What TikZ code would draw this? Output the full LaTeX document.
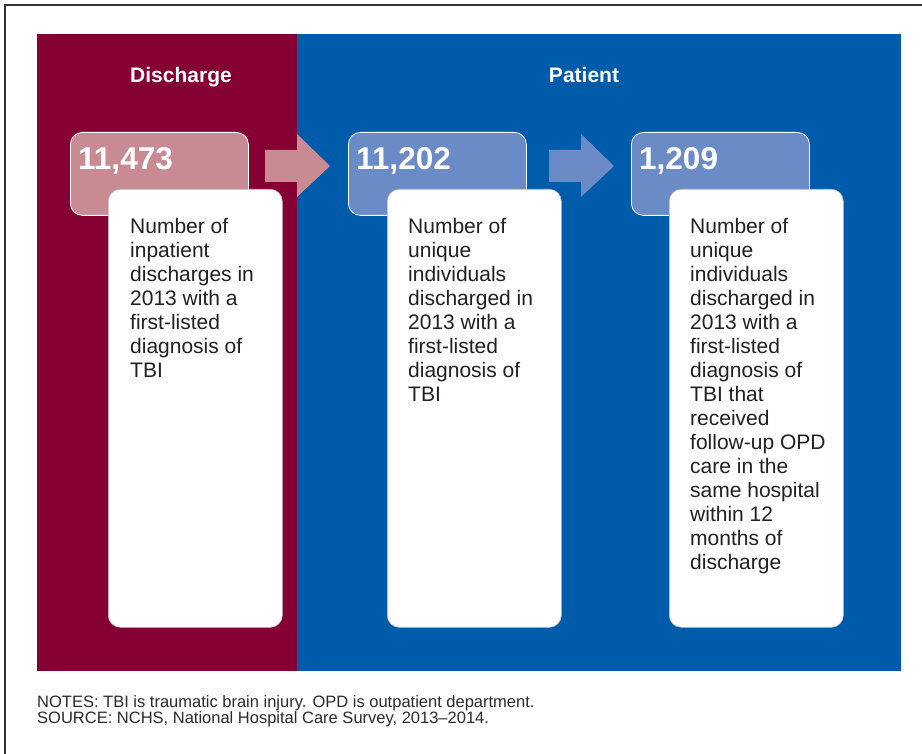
\documentclass[tikz,border=0pt]{standalone}
\usepackage{fontspec}
\setmainfont{Liberation Sans}
\definecolor{maroonc}{HTML}{850033}
\definecolor{bluec}{HTML}{005BAA}
\definecolor{pinkc}{HTML}{C98B93}
\definecolor{lblue}{HTML}{6B8BC7}
\definecolor{txtc}{HTML}{231F20}
\definecolor{notec}{HTML}{2A2A2A}
\begin{document}
\begin{tikzpicture}[x=1pt,y=-1pt,
  panel/.style={draw=none,inner sep=0,outer sep=0,anchor=north west},
  numbox/.style={draw=white,line width=0.8pt,rounded corners=12pt,inner sep=0,anchor=north west,minimum width=178pt,minimum height=83pt},
  whitebox/.style={draw=black!25,line width=0.6pt,fill=white,rounded corners=12pt,inner sep=0,anchor=north west,minimum width=174pt,minimum height=438pt},
  numtxt/.style={font=\bfseries\fontsize{31.5}{34}\selectfont,text=white,anchor=base west,inner sep=0},
  title/.style={font=\bfseries\fontsize{21}{24}\selectfont,text=white,anchor=base,inner sep=0},
  desc/.style={font=\fontsize{21}{24}\selectfont,text=txtc,align=left,anchor=north west,inner sep=0},
  note/.style={font=\fontsize{16.5}{16}\selectfont,text=notec,align=left,anchor=north west,inner sep=0}]
\useasboundingbox (0,0) rectangle (922,754);
\fill[white] (0,0) rectangle (922,754);
\draw[black!80,line width=1.2pt] (5,754) -- (5,5) -- (922,5);
% panels
\node[panel,fill=maroonc,minimum width=260pt,minimum height=637pt] (pd) at (37,34) {};
\node[panel,fill=bluec,minimum width=604pt,minimum height=637pt] (pp) at (297,34) {};
\node[title] (td) at (181,83) {Discharge};
\node[title] (tp) at (584,83) {Patient};
% arrows
\fill[pinkc] (265,150) -- (297,150) -- (297,134) -- (330,166) -- (297,197) -- (297,182) -- (265,182) -- cycle;
\fill[lblue] (549,150) -- (581,150) -- (581,134) -- (614,166) -- (581,197) -- (581,182) -- (549,182) -- cycle;
% number boxes
\node[numbox,fill=pinkc] (b1) at (70,132) {};
\node[numbox,fill=lblue] (b2) at (348,132) {};
\node[numbox,fill=lblue] (b3) at (631,132) {};
\node[numtxt] (n1) at (78,170) {11,473};
\node[numtxt] (n2) at (356,170) {11,202};
\node[numtxt] (n3) at (639,170) {1,209};
% white boxes
\node[whitebox] (w1) at (108,189) {};
\node[whitebox] (w2) at (387,189) {};
\node[whitebox] (w3) at (669,189) {};
\node[desc] (d1) at (130,218) {Number of\\inpatient\\discharges in\\2013 with a\\first-listed\\diagnosis of\\TBI};
\node[desc] (d2) at (408,218) {Number of\\unique\\individuals\\discharged in\\2013 with a\\first-listed\\diagnosis of\\TBI};
\node[desc] (d3) at (690,218) {Number of\\unique\\individuals\\discharged in\\2013 with a\\first-listed\\diagnosis of\\TBI that\\received\\follow-up OPD\\care in the\\same hospital\\within 12\\months of\\discharge};
% notes
\node[note] (notes) at (37,695) {NOTES: TBI is traumatic brain injury. OPD is outpatient department.\\SOURCE: NCHS, National Hospital Care Survey, 2013--2014.};
\end{tikzpicture}
\end{document}
